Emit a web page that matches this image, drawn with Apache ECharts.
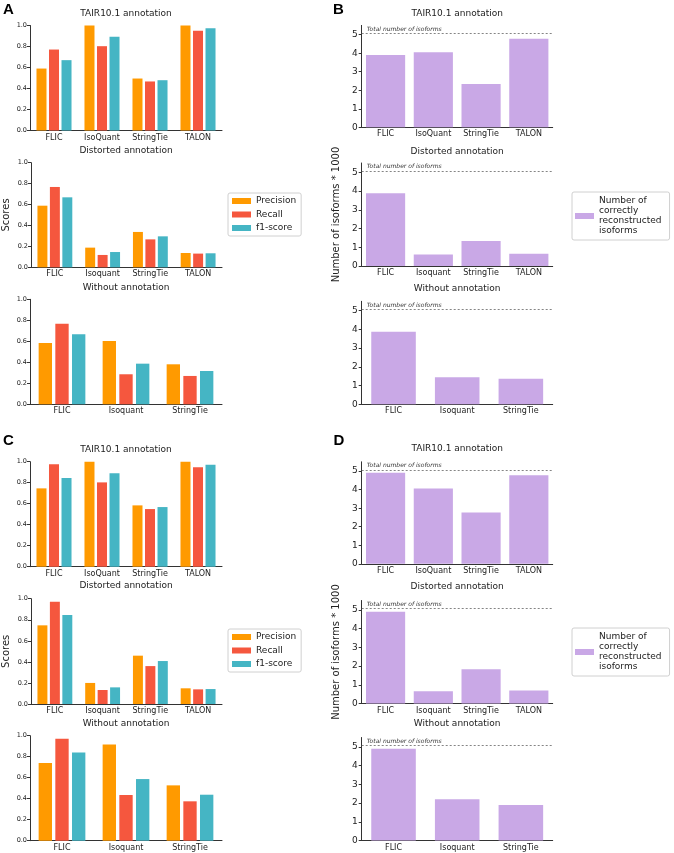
<!DOCTYPE html>
<html style="height: 100%">
<head>
    <meta charset="utf-8">
    <script src="https://cdn.jsdelivr.net/npm/echarts@6/dist/echarts.min.js"></script>
</head>
<body style="height: 100%; margin: 0; background: #fff">
    <div id="container" style="width: 674px; height: 853px"></div>
    <script type="text/javascript">
        // categories
        var catsTair = ['FLIC', 'IsoQuant', 'StringTie', 'TALON'];
        var catsDist = ['FLIC', 'Isoquant', 'StringTie', 'TALON'];
        var catsNone = ['FLIC', 'Isoquant', 'StringTie'];
        var metricNames = ['Precision', 'Recall', 'f1-score'];
        var countName = 'Number of\ncorrectly\nreconstructed\nisoforms';
        var scoreTicks = [0, 0.2, 0.4, 0.6, 0.8, 1.0];
        var countTicks = [0, 1, 2, 3, 4, 5];
        var totalIsoforms = 5.06;

        // panel A scores: [precision, recall, f1]
        var aTair = [[0.59, 1.0, 0.495, 1.0], [0.771, 0.803, 0.467, 0.949], [0.67, 0.892, 0.479, 0.975]];
        var aDist = [[0.589, 0.188, 0.338, 0.137], [0.768, 0.118, 0.267, 0.131], [0.669, 0.146, 0.296, 0.134]];
        var aNone = [[0.584, 0.603, 0.381], [0.768, 0.286, 0.27], [0.667, 0.387, 0.317]];
        // panel C scores
        var cTair = [[0.746, 1.0, 0.584, 1.0], [0.975, 0.803, 0.549, 0.946], [0.844, 0.889, 0.568, 0.971]];
        var cDist = [[0.747, 0.20, 0.459, 0.149], [0.97, 0.133, 0.36, 0.139], [0.845, 0.158, 0.408, 0.142]];
        var cNone = [[0.74, 0.917, 0.527], [0.971, 0.435, 0.375], [0.841, 0.587, 0.438]];
        // panel B / D: isoforms * 1000
        var bTair = [3.90, 4.05, 2.34, 4.78];
        var bDist = [3.88, 0.62, 1.33, 0.66];
        var bNone = [3.87, 1.44, 1.36];
        var dTair = [4.91, 4.06, 2.77, 4.78];
        var dDist = [4.90, 0.65, 1.83, 0.69];
        var dNone = [4.90, 2.20, 1.90];

        var FONT = 'DejaVu Sans';
        var metricColors = ['#ff9a00', '#f5573e', '#45b5c4'];
        var purple = '#c9a8e6';
        var axisColor = '#333';

        var grid = [], xAxis = [], yAxis = [], series = [], graphic = [];

        function addTitle(text, x, y) {
            graphic.push({
                type: 'text', x: x, y: y, silent: true,
                style: { text: text, fill: '#222', fontSize: 9, fontFamily: FONT, align: 'center', verticalAlign: 'middle' }
            });
        }

        function xAxisOf(i, cats) {
            return {
                type: 'category', gridIndex: i, data: cats,
                axisLine: { lineStyle: { color: axisColor, width: 1 } },
                axisTick: { alignWithLabel: true, length: 3, lineStyle: { color: axisColor } },
                axisLabel: { fontSize: 8, color: '#222', margin: 3, fontFamily: FONT, interval: 0 }
            };
        }

        function addScorePlot(cats, vals, top, h, title, titleY, yName) {
            var i = grid.length;
            grid.push({ left: 30, top: top, width: 192, height: h });
            xAxis.push(xAxisOf(i, cats));
            yAxis.push({
                type: 'value', gridIndex: i, min: 0, max: 1, interval: 0.2,
                axisLine: { show: true, lineStyle: { color: axisColor, width: 1 } },
                axisTick: { show: true, length: 3, lineStyle: { color: axisColor } },
                splitLine: { show: false },
                axisLabel: { fontSize: 6.5, color: '#222', margin: 3, fontFamily: FONT, formatter: function (v) { return v.toFixed(1); } },
                name: yName || '', nameLocation: 'middle', nameGap: 20,
                nameTextStyle: { fontSize: 10, color: '#222', fontFamily: FONT }
            });
            metricNames.forEach(function (m, k) {
                series.push({
                    type: 'bar', name: m, xAxisIndex: i, yAxisIndex: i, data: vals[k],
                    itemStyle: { color: metricColors[k] },
                    barGap: '25%', barCategoryGap: '27%'
                });
            });
            addTitle(title, 126, titleY);
        }

        function addCountPlot(cats, vals, top, h, title, titleY, yName) {
            var i = grid.length;
            grid.push({ left: 361.7, top: top, width: 191, height: h });
            xAxis.push(xAxisOf(i, cats));
            yAxis.push({
                type: 'value', gridIndex: i, min: 0, max: 5.5,
                axisLine: { show: true, lineStyle: { color: axisColor, width: 1 } },
                axisTick: { show: true, length: 3, customValues: countTicks, lineStyle: { color: axisColor } },
                splitLine: { show: false },
                axisLabel: { fontSize: 9, color: '#222', margin: 4, fontFamily: FONT, customValues: countTicks },
                name: yName || '', nameLocation: 'middle', nameGap: 20,
                nameTextStyle: { fontSize: 10, color: '#222', fontFamily: FONT }
            });
            series.push({
                type: 'bar', name: countName, xAxisIndex: i, yAxisIndex: i, data: vals,
                itemStyle: { color: purple },
                barCategoryGap: cats.length === 4 ? '18%' : '30%',
                markLine: {
                    silent: true, symbol: ['none', 'none'],
                    lineStyle: { type: [2, 2], color: '#666', width: 0.8 },
                    label: {
                        show: true, position: 'insideStartTop', distance: [5, 1.5],
                        formatter: 'Total number of isoforms',
                        fontSize: 6, fontStyle: 'italic', color: '#333', fontFamily: FONT
                    },
                    data: [{ yAxis: totalIsoforms }]
                }
            });
            addTitle(title, 457.2, titleY);
        }

        addScorePlot(catsTair, aTair, 25.5, 105, 'TAIR10.1 annotation', 14);
        addScorePlot(catsDist, aDist, 162.7, 104.6, 'Distorted annotation', 150.5, 'Scores');
        addScorePlot(catsNone, aNone, 299.3, 105, 'Without annotation', 287.3);
        addScorePlot(catsTair, cTair, 461.7, 105, 'TAIR10.1 annotation', 449.5);
        addScorePlot(catsDist, cDist, 598.7, 105.3, 'Distorted annotation', 585.7);
        yAxis[4].name = 'Scores';
        addScorePlot(catsNone, cNone, 735.7, 105, 'Without annotation', 723.3);

        addCountPlot(catsTair, bTair, 25.4, 101.9, 'TAIR10.1 annotation', 14);
        addCountPlot(catsDist, bDist, 163, 103, 'Distorted annotation', 152, 'Number of isoforms * 1000');
        addCountPlot(catsNone, bNone, 301.3, 103, 'Without annotation', 289);
        addCountPlot(catsTair, dTair, 461.8, 102, 'TAIR10.1 annotation', 449);
        addCountPlot(catsDist, dDist, 600.5, 103, 'Distorted annotation', 587, 'Number of isoforms * 1000');
        addCountPlot(catsNone, dNone, 737.5, 103, 'Without annotation', 724);

        // panel letters
        [['A', 8.5, 10], ['B', 338.5, 10], ['C', 8.5, 440.5], ['D', 339, 440.5]].forEach(function (l) {
            graphic.push({
                type: 'text', x: l[1], y: l[2], silent: true,
                style: { text: l[0], fill: '#000', fontSize: 15, fontWeight: 'bold', fontFamily: 'Liberation Sans', align: 'center', verticalAlign: 'middle' }
            });
        });

        function legendOf(names, left, top, padding) {
            return {
                data: names, orient: 'vertical', left: left, top: top,
                icon: 'rect', itemWidth: 19, itemHeight: 6, itemGap: 3.5,
                padding: padding, selectedMode: false,
                borderColor: '#d0d0d0', borderWidth: 1, borderRadius: 2,
                textStyle: { fontSize: 9, color: '#222', fontFamily: FONT, lineHeight: 10 }
            };
        }

        var option = {
            animation: false,
            backgroundColor: '#fff',
            grid: grid,
            xAxis: xAxis,
            yAxis: yAxis,
            series: series,
            graphic: graphic,
            legend: [
                legendOf(metricNames, 228, 193, [3, 5, 3, 4]),
                legendOf(metricNames, 228, 629, [3, 5, 3, 4]),
                legendOf([countName], 572, 192, [4, 8, 4, 3]),
                legendOf([countName], 572, 628, [4, 8, 4, 3])
            ]
        };

        var myChart = echarts.init(document.getElementById('container'));
        myChart.setOption(option);
    </script>
</body>
</html>
